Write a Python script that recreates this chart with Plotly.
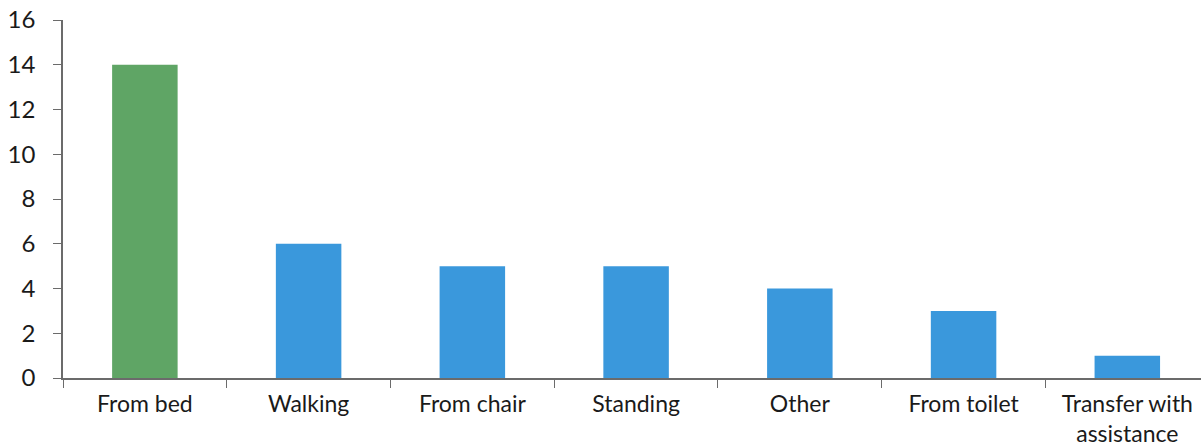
import plotly.graph_objects as go

# Fall circumstances and their counts
categories = ["From bed", "Walking", "From chair", "Standing", "Other",
              "From toilet", "Transfer with<br>assistance"]
counts = [14, 6, 5, 5, 4, 3, 1]
bar_colors = ["#5FA565", "#3A98DC", "#3A98DC", "#3A98DC", "#3A98DC",
              "#3A98DC", "#3A98DC"]
y_ticks = [0, 2, 4, 6, 8, 10, 12, 14, 16]

fig = go.Figure(
    go.Bar(
        x=categories,
        y=counts,
        marker=dict(color=bar_colors, line=dict(width=0)),
        width=0.4,
    )
)

axis_color = "#6b6b6b"
fig.update_layout(
    width=1201,
    height=448,
    margin=dict(l=63, r=0, t=20, b=70),
    paper_bgcolor="white",
    plot_bgcolor="white",
    showlegend=False,
    font=dict(family="Lato, 'Open Sans', sans-serif", size=23, color="#1a1a1a"),
    xaxis=dict(
        range=[-0.5, 6.45],
        showline=True,
        linecolor=axis_color,
        linewidth=1.5,
        ticks="outside",
        tickson="boundaries",
        ticklen=8,
        tickcolor=axis_color,
        showgrid=False,
        zeroline=False,
        ticklabelstandoff=5,
        automargin=False,
    ),
    yaxis=dict(
        range=[0, 16],
        tickvals=y_ticks,
        showline=True,
        linecolor=axis_color,
        linewidth=1.5,
        ticks="outside",
        ticklen=8,
        tickcolor=axis_color,
        showgrid=False,
        zeroline=False,
        ticklabelstandoff=13,
        tickfont=dict(size=24),
        automargin=False,
    ),
)

fig.write_html("out.html")
